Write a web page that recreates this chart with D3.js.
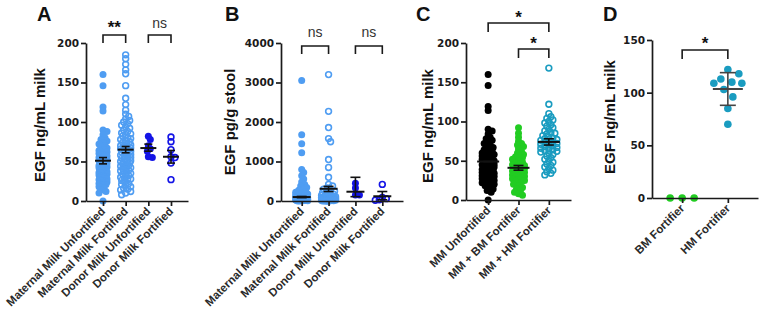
<!DOCTYPE html>
<html lang="en">
<head>
<meta charset="utf-8">
<script src="https://d3js.org/d3.v7.min.js"></script>
<style>
    body { margin: 0; background: #fff; overflow: hidden; }
    .tick text { font-family: "DejaVu Sans", sans-serif; font-weight: bold; font-size: 10.5px; fill: #1a1a1a; }
    .xlab { font-family: "Liberation Sans", Arial, sans-serif; font-weight: bold; font-size: 11.5px; fill: #2a2a2a; }
    .ytitle { font-family: "Liberation Sans", Arial, sans-serif; font-weight: bold; font-size: 15px; fill: #111; }
    .letter { font-family: "Liberation Sans", Arial, sans-serif; font-weight: bold; font-size: 20px; fill: #111; }
    .star { font-family: "Liberation Sans", Arial, sans-serif; font-weight: bold; font-size: 17px; fill: #111; }
    .ns { font-family: "Liberation Sans", Arial, sans-serif; font-size: 14px; fill: #333; }
</style>
</head>
<body>
<svg id="chart" width="760" height="320"></svg>
<script>
// ---- Panel A: EGF ng/mL milk ----
var catsA = ["Maternal Milk Unfortified", "Maternal Milk Fortified", "Donor Milk Unfortified", "Donor Milk Fortified"];
var maternalUnfort = [160, 146, 119, 114, 90, 88, 84, 80, 78, 76, 74, 72, 70, 68, 67, 65, 64, 62, 61, 60,
    59, 58, 57, 56, 55, 54, 53, 52, 51, 50, 50, 49, 48, 47, 46, 45, 45, 44, 43, 42, 42, 41, 40, 39, 38, 38,
    37, 36, 35, 35, 34, 33, 32, 31, 30, 30, 29, 28, 27, 26, 25, 24, 23, 22, 21, 20, 18, 16, 14, 12, 10, 0];
var maternalFort = [185, 180, 173, 166, 161, 146, 130, 122, 115, 110, 107, 104, 102, 100, 98, 96, 94, 92, 90, 88,
    86, 85, 84, 82, 80, 79, 78, 76, 75, 74, 72, 71, 70, 69, 68, 67, 66, 65, 64, 63, 62, 61, 60, 59, 58, 57,
    56, 55, 54, 53, 52, 51, 50, 50, 49, 48, 47, 46, 45, 44, 44, 43, 42, 41, 40, 39, 38, 38, 36, 35, 34, 33,
    32, 30, 29, 28, 27, 26, 24, 22, 21, 20, 18, 16, 15, 14, 12, 10, 8];
var donorUnfort = [82, 78, 70, 66, 63, 56, 55];
var donorFort = [81, 75, 65, 56, 55, 48, 27];
var meanA = [51, 65, 67, 56];
var lowA = [47, 61, 63, 48];
var highA = [55, 69, 72, 64];

// ---- Panel B: EGF pg/g stool ----
var catsB = catsA;
var stoolMatUnfort = [3050, 1680, 1450, 1220, 800, 720, 640, 560, 480, 420, 380, 340, 300, 270, 240, 220,
    200, 190, 180, 170, 160, 150, 140, 130, 120, 110, 100, 95, 90, 85, 80, 75, 70, 65, 60, 55, 50, 45, 40,
    35, 30, 28, 25, 22, 20, 18, 15, 12, 10, 8, 5, 3, 0];
var stoolMatFort = [3200, 2270, 1860, 1580, 1500, 1050, 850, 600, 420, 380, 330, 300, 270, 250, 230, 210,
    190, 170, 150, 140, 130, 120, 110, 100, 95, 90, 85, 80, 70, 65, 60, 55, 50, 45, 40, 35, 30, 25, 20, 18,
    15, 12, 10, 8, 5, 3, 0];
var stoolDonUnfort = [450, 330, 150, 150];
var stoolDonFort = [420, 90, 60, 30, 20];
var meanB = [100, 310, 235, 120];
var lowB = [85, 240, 110, 30];
var highB = [115, 370, 600, 240];

// ---- Panel C: EGF ng/mL milk ----
var catsC = ["MM Unfortified", "MM + BM Fortifier", "MM + HM Fortifier"];
var mmUnfort = maternalUnfort;
var mmBM = [92, 85, 80, 75, 72, 70, 68, 65, 62, 60, 58, 56, 55, 54, 52, 50, 48, 47, 46, 45, 44, 43, 42, 41,
    40, 40, 39, 38, 37, 36, 35, 34, 33, 32, 31, 30, 29, 28, 27, 26, 25, 24, 22, 20, 18, 16, 14, 12, 10, 8, 6];
var mmHM = [168, 122, 110, 106, 104, 102, 100, 98, 96, 94, 92, 90, 88, 86, 85, 84, 82, 80, 79, 78, 77, 76,
    75, 74, 73, 72, 71, 70, 69, 68, 67, 66, 65, 64, 63, 62, 61, 60, 58, 56, 54, 52, 50, 48, 46, 44, 42, 40,
    38, 36, 34, 32];
var meanC = [49, 41, 74];
var lowC = [49, 38, 70];
var highC = [49, 44, 78];

// ---- Panel D: EGF ng/mL milk ----
var catsD = ["BM Fortifier", "HM Fortifier"];
var bmFortifier = [0, 0, 0];
var hmFortifier = [122, 118, 113, 110, 109, 109, 103, 96, 85, 70];
var meanD = [0, 103.5];
var lowD = [0, 88];
var highD = [0, 119];

var lightBlue = "#4f9df2", blue = "#1414e6", green = "#22cc22", teal = "#1a9cc0";

var panels = [
    { letter: "A", lx: 37, title: "EGF ng/mL milk", tx: 45, ty: 125,
      x0: 86, x1: 188, pad: 0.75, yTop: 43, yBot: 201, max: 200, ticks: [0, 50, 100, 150, 200],
      cats: catsA, series: [maternalUnfort, maternalFort, donorUnfort, donorFort],
      colors: [lightBlue, lightBlue, blue, blue], open: [false, true, false, true],
      mean: meanA, low: lowA, high: highA, meanW: 8, capW: 4, barColor: "#111",
      r: 3.5, gap: 3.4, maxW: [4, 5, 6, 6],
      sig: [{ a: 0, b: 1, y: 35, leg: 8, label: "**", type: "star", ty: 23 },
            { a: 2, b: 3, y: 35, leg: 8, label: "ns", type: "ns", ty: 24 }] },
    { letter: "B", lx: 225, title: "EGF pg/g stool", tx: 235, ty: 122,
      x0: 281, x1: 403, pad: 0.77, yTop: 43, yBot: 201, max: 4000, ticks: [0, 1000, 2000, 3000, 4000],
      cats: catsB, series: [stoolMatUnfort, stoolMatFort, stoolDonUnfort, stoolDonFort],
      colors: [lightBlue, lightBlue, blue, blue], open: [false, true, false, true],
      mean: meanB, low: lowB, high: highB, meanW: 9, capW: 5, barColor: "#111",
      r: 3.5, gap: 3.6, maxW: [6, 7, 6, 7],
      sig: [{ a: 0, b: 1, y: 46, leg: 8, label: "ns", type: "ns", ty: 33 },
            { a: 2, b: 3, y: 46, leg: 8, label: "ns", type: "ns", ty: 33 }] },
    { letter: "C", lx: 416, title: "EGF ng/mL milk", tx: 433, ty: 126,
      x0: 466, x1: 571, pad: 0.73, yTop: 43, yBot: 200, max: 200, ticks: [0, 50, 100, 150, 200],
      cats: catsC, series: [mmUnfort, mmBM, mmHM],
      colors: ["#000", green, teal], open: [false, false, true],
      mean: meanC, low: lowC, high: highC, meanW: 11, capW: 5, barColor: "#111",
      r: 3.5, gap: 3.6, maxW: [6, 6, 8],
      sig: [{ a: 0, b: 2, y: 23, leg: 9, label: "*", type: "star", ty: 13 },
            { a: 1, b: 2, y: 49, leg: 9, label: "*", type: "star", ty: 39 }] },
    { letter: "D", lx: 603, title: "EGF ng/mL milk", tx: 615, ty: 117,
      x0: 652, x1: 758, pad: 0.66, yTop: 40, yBot: 198, max: 150, ticks: [0, 50, 100, 150],
      cats: catsD, series: [bmFortifier, hmFortifier],
      colors: [green, teal], open: [false, false],
      mean: meanD, low: lowD, high: highD, meanW: 15, capW: 8, barColor: "#444",
      r: 3.8, gap: 11.5, maxW: [14, 14],
      sig: [{ a: 0, b: 1, y: 50, leg: 9, label: "*", type: "star", ty: 39 }] }
];

var svg = d3.select("#chart");

// simple beeswarm: place points by value, nearest free horizontal offset
function swarm(vals, y, gap, maxW) {
    var placed = [];
    var order = vals.map(function (v, i) { return { v: v, i: i }; })
        .sort(function (a, b) { return b.v - a.v; });
    order.forEach(function (d) {
        var py = y(d.v), best = 0, bestScore = -1;
        for (var k = 0; k <= maxW * 2; k++) {
            var dx = (k % 2 ? 1 : -1) * Math.ceil(k / 2);
            var minD = Infinity;
            placed.forEach(function (p) {
                var dd = Math.hypot(p.dx - dx, p.y - py);
                if (dd < minD) minD = dd;
            });
            if (minD >= gap) { best = dx; bestScore = Infinity; break; }
            if (minD > bestScore) { bestScore = minD; best = dx; }
        }
        placed.push({ dx: best, y: py, v: d.v });
    });
    return placed;
}

panels.forEach(function (P) {
    var y = d3.scaleLinear().domain([0, P.max]).range([P.yBot, P.yTop]);
    var x = d3.scalePoint().domain(P.cats).range([P.x0, P.x1]).padding(P.pad);
    var g = svg.append("g");

    // dots
    P.series.forEach(function (vals, si) {
        var cx = x(P.cats[si]);
        var pts = swarm(vals, y, P.gap, P.maxW[si]);
        g.selectAll(null).data(pts).join("circle")
            .attr("cx", function (d) { return cx + d.dx; })
            .attr("cy", function (d) { return d.y; })
            .attr("r", P.open[si] ? P.r - 0.6 : P.r)
            .attr("fill", P.open[si] ? "none" : P.colors[si])
            .attr("stroke", P.open[si] ? P.colors[si] : "none")
            .attr("stroke-width", 1.6);
    });

    // mean and error bars
    P.cats.forEach(function (c, i) {
        var cx = x(c);
        if (P.high[i] === P.low[i] && P.mean[i] === 0) return;
        var eb = g.append("g").attr("stroke", P.barColor).attr("stroke-width", 1.6);
        eb.append("line").attr("x1", cx).attr("x2", cx).attr("y1", y(P.low[i])).attr("y2", y(P.high[i]));
        eb.append("line").attr("x1", cx - P.capW).attr("x2", cx + P.capW).attr("y1", y(P.low[i])).attr("y2", y(P.low[i]));
        eb.append("line").attr("x1", cx - P.capW).attr("x2", cx + P.capW).attr("y1", y(P.high[i])).attr("y2", y(P.high[i]));
        eb.append("line").attr("x1", cx - P.meanW).attr("x2", cx + P.meanW).attr("y1", y(P.mean[i])).attr("y2", y(P.mean[i]))
            .attr("stroke-width", 2);
    });

    // axes
    var yAxis = g.append("g").attr("transform", "translate(" + P.x0 + ",0)")
        .call(d3.axisLeft(y).tickValues(P.ticks).tickFormat(d3.format("d")).tickSize(5).tickSizeOuter(0).tickPadding(2));
    var xAxis = g.append("g").attr("transform", "translate(0," + P.yBot + ")")
        .call(d3.axisBottom(x).tickSize(5).tickSizeOuter(0));
    xAxis.selectAll(".tick text").remove();
    [yAxis, xAxis].forEach(function (ax) {
        ax.select(".domain").attr("stroke", "#1a1a1a").attr("stroke-width", 1.7);
        ax.selectAll(".tick line").attr("stroke", "#1a1a1a").attr("stroke-width", 1.7);
    });

    // rotated category labels
    P.cats.forEach(function (c) {
        g.append("text").attr("class", "xlab")
            .attr("text-anchor", "end")
            .attr("transform", "translate(" + (x(c) + 3) + "," + (P.yBot + 11) + ") rotate(-45)")
            .text(c);
    });

    // titles
    g.append("text").attr("class", "ytitle").attr("text-anchor", "middle")
        .attr("transform", "translate(" + P.tx + "," + P.ty + ") rotate(-90)")
        .text(P.title);
    g.append("text").attr("class", "letter").attr("x", P.lx).attr("y", 21).text(P.letter);

    // significance brackets
    P.sig.forEach(function (s) {
        var xa = x(P.cats[s.a]), xb = x(P.cats[s.b]);
        g.append("path")
            .attr("d", "M" + xa + "," + (s.y + s.leg) + "V" + s.y + "H" + xb + "V" + (s.y + s.leg))
            .attr("fill", "none").attr("stroke", "#1a1a1a").attr("stroke-width", 1.6);
        g.append("text").attr("class", s.type).attr("text-anchor", "middle")
            .attr("x", (xa + xb) / 2)
            .attr("y", s.type === "star" ? s.ty + 10 : s.ty + 4)
            .text(s.label);
    });
});
</script>
</body>
</html>
